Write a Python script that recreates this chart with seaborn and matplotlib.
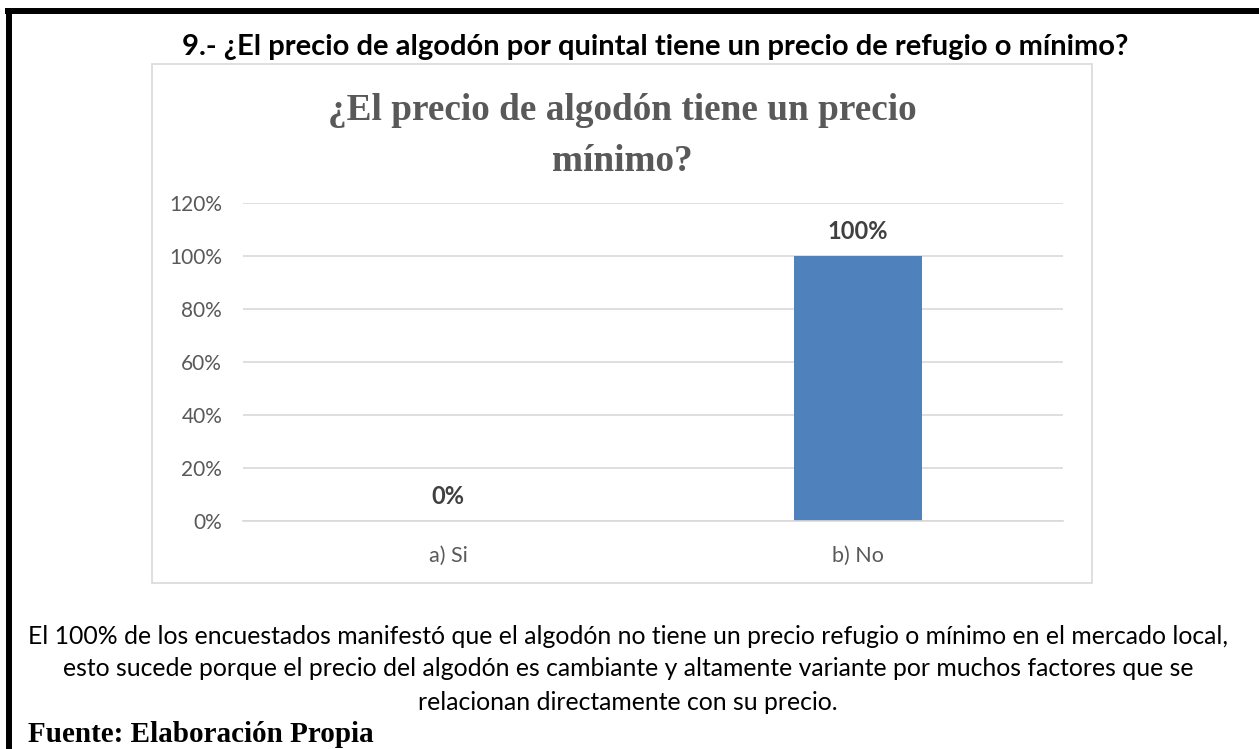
import matplotlib
matplotlib.use("Agg")
import matplotlib.pyplot as plt
import seaborn as sns
import pandas as pd
from matplotlib.patches import Rectangle
from matplotlib.lines import Line2D
from matplotlib.ticker import FuncFormatter

categories = ["a) Si", "b) No"]
values = [0.0, 1.0]
yticks = [0, 0.2, 0.4, 0.6, 0.8, 1.0, 1.2]

heading = "9.- ¿El precio de algodón por quintal tiene un precio de refugio o mínimo?"
chart_title = "¿El precio de algodón tiene un precio\nmínimo?"
body_lines = [
    "El 100% de los encuestados manifestó que el algodón no tiene un precio refugio o mínimo en el mercado local,",
    "esto sucede porque el precio del algodón es cambiante y altamente variante por muchos factores que se",
    "relacionan directamente con su precio.",
]
source = "Fuente: Elaboración Propia"

sns.set_theme(style="white")
plt.rcParams["font.family"] = ["Lato", "DejaVu Sans"]

W, H = 1259, 749
fig = plt.figure(figsize=(W / 100, H / 100), dpi=100)
fig.patch.set_facecolor("white")

def fx(px):
    return px / W

def fy(py):
    return 1 - py / H

# outer border (top and left)
fig.add_artist(Line2D([fx(5), 1.0], [fy(10.5), fy(10.5)], color="black", lw=4.3,
                      transform=fig.transFigure, solid_capstyle="butt"))
fig.add_artist(Line2D([fx(8.5), fx(8.5)], [fy(8), 0.0], color="black", lw=4.3,
                      transform=fig.transFigure, solid_capstyle="butt"))

# chart box
fig.add_artist(Rectangle((fx(152), fy(583)), fx(1092) - fx(152), fy(64) - fy(583),
                         transform=fig.transFigure, fill=False, edgecolor="#d9d9d9", lw=1.2))

fig.text(fx(655), fy(47), heading, ha="center", va="center", fontsize=21,
         fontweight="bold", color="black")

fig.text(fx(622), fy(136), chart_title, ha="center", va="center", fontsize=26.8,
         fontweight="bold", color="#595959", family=["Liberation Serif", "DejaVu Serif"],
         linespacing=1.62)

ax = fig.add_axes([fx(243), fy(521), fx(1063) - fx(243), fy(203) - fy(521)])
df = pd.DataFrame({"cat": categories, "val": values})
sns.barplot(data=df, x="cat", y="val", color="#4F81BD", width=0.31, ax=ax,
            saturation=1, edgecolor="none")
ax.set_xlim(-0.5, 1.5)
ax.set_ylim(0, 1.2)
ax.set_yticks(yticks)
ax.yaxis.set_major_formatter(FuncFormatter(lambda v, p: f"{v*100:.0f}%"))
ax.grid(axis="y", color="#d9d9d9", lw=1.2)
ax.set_axisbelow(True)
for s in ["top", "right", "left"]:
    ax.spines[s].set_visible(False)
ax.spines["bottom"].set_color("#d9d9d9")
ax.spines["bottom"].set_linewidth(1.2)
ax.set_xlabel("")
ax.set_ylabel("")
ax.tick_params(axis="both", length=0, colors="#595959")
ax.tick_params(axis="y", pad=15, labelsize=15)
ax.tick_params(axis="x", pad=18, labelsize=15.5)
ax.patch.set_alpha(0)

for i, v in enumerate(values):
    ax.annotate(f"{v*100:.0f}%", (i, v), xytext=(0, 9), textcoords="offset points",
                ha="center", va="bottom", fontsize=17, fontweight="bold", color="#404040")

for k, line in enumerate(body_lines):
    fig.text(fx(628), fy(636 + 33 * k), line, ha="center", va="center",
             fontsize=17.8, color="black")

fig.text(fx(28), fy(742), source, ha="left", va="baseline", fontsize=21, fontweight="bold",
         color="black", family=["Liberation Serif", "DejaVu Serif"])

fig.savefig("out.png", dpi=100, facecolor="white")
